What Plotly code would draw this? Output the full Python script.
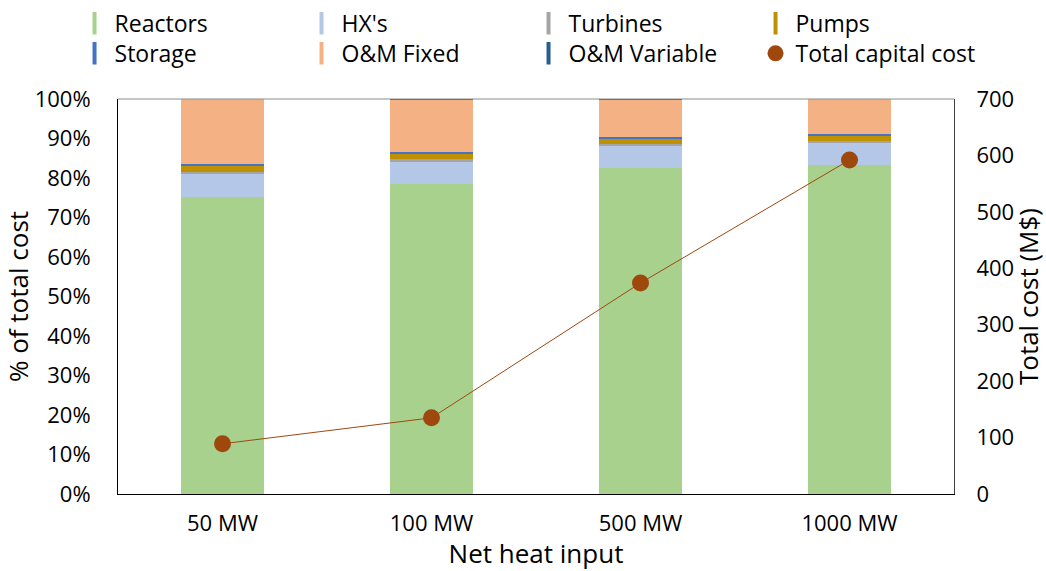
import plotly.graph_objects as go

categories = ["50 MW", "100 MW", "500 MW", "1000 MW"]
reactors = [75.2, 78.4, 82.6, 83.2]
hx = [5.9, 5.7, 5.4, 5.7]
turbines = [0.5, 0.7, 0.6, 0.5]
pumps = [1.6, 1.5, 1.5, 1.4]
storage = [0.3, 0.35, 0.35, 0.4]
om_fixed = [16.5, 13.3, 9.5, 8.8]
om_variable = [0.0, 0.05, 0.05, 0.05]
total_cost = [89, 135, 374, 592]

y_ticks = [0, 10, 20, 30, 40, 50, 60, 70, 80, 90, 100]
y2_ticks = [0, 100, 200, 300, 400, 500, 600, 700]

series = [
    ("Reactors", reactors, "#A9D18E"),
    ("HX's", hx, "#B4C7E7"),
    ("Turbines", turbines, "#A5A5A5"),
    ("Pumps", pumps, "#BF9000"),
    ("Storage", storage, "#4472C4"),
    ("O&M Fixed", om_fixed, "#F4B183"),
    ("O&M Variable", om_variable, "#255E91"),
]

FONT = "Open Sans"
fig = go.Figure()
for i, (name, vals, col) in enumerate(series):
    fig.add_trace(go.Bar(x=categories, y=vals, name=name, marker=dict(color=col, line=dict(width=0)),
                         showlegend=False, width=0.4))
    fig.add_trace(go.Scatter(x=[None], y=[None], mode="markers", name=name,
                             legend="legend" if i < 4 else "legend2",
                             marker=dict(symbol="line-ns", size=20, line=dict(color=col, width=4))))

fig.add_trace(go.Scatter(x=categories, y=total_cost, yaxis="y2", mode="lines+markers",
                         name="Total capital cost", showlegend=False,
                         line=dict(color="#9E480E", width=1),
                         marker=dict(color="#9E480E", size=17)))
fig.add_trace(go.Scatter(x=[None], y=[None], yaxis="y2", mode="markers", name="Total capital cost",
                         legend="legend2", marker=dict(color="#9E480E", size=16)))

leg_common = dict(orientation="h", xanchor="left", yanchor="top",
                  entrywidth=182, entrywidthmode="pixels", font=dict(size=23, family=FONT),
                  itemwidth=30, traceorder="normal", bgcolor="rgba(0,0,0,0)")

fig.update_layout(
    width=1046, height=571,
    margin=dict(l=118, r=92, t=99, b=77, autoexpand=False),
    plot_bgcolor="white", paper_bgcolor="white",
    barmode="stack", bargap=0.6,
    font=dict(family=FONT, size=22, color="#000000"),
    legend=dict(x=-0.052, y=1.246, **leg_common),
    legend2=dict(x=-0.052, y=1.170, **leg_common),
    xaxis=dict(showline=True, linecolor="black", linewidth=1, ticks="outside", ticklen=10,
               tickcolor="rgba(0,0,0,0)", title=dict(text="Net heat input", standoff=2),
               tickfont=dict(size=22)),
    yaxis=dict(range=[0, 100], tickvals=y_ticks, ticktext=[f"{v}%" for v in y_ticks],
               showline=True, linecolor="black", linewidth=1, showgrid=False, zeroline=False,
               ticks="outside", ticklen=22, tickcolor="rgba(0,0,0,0)",
               title=dict(text="% of total cost", standoff=5)),
    yaxis2=dict(range=[0, 700], tickvals=y2_ticks, overlaying="y", side="right",
                showline=True, linecolor="#404040", linewidth=1, showgrid=False, zeroline=False,
                ticks="outside", ticklen=17, tickcolor="rgba(0,0,0,0)",
                title=dict(text="Total cost (M$)", standoff=9)),
    shapes=[dict(type="line", xref="paper", yref="paper", x0=0, x1=1, y0=1, y1=1,
                 line=dict(color="#8C8C8C", width=1))],
)

fig.write_html("out.html", config={"displayModeBar": False},
               post_script="document.body.style.margin='0px';document.body.style.overflow='hidden';")
